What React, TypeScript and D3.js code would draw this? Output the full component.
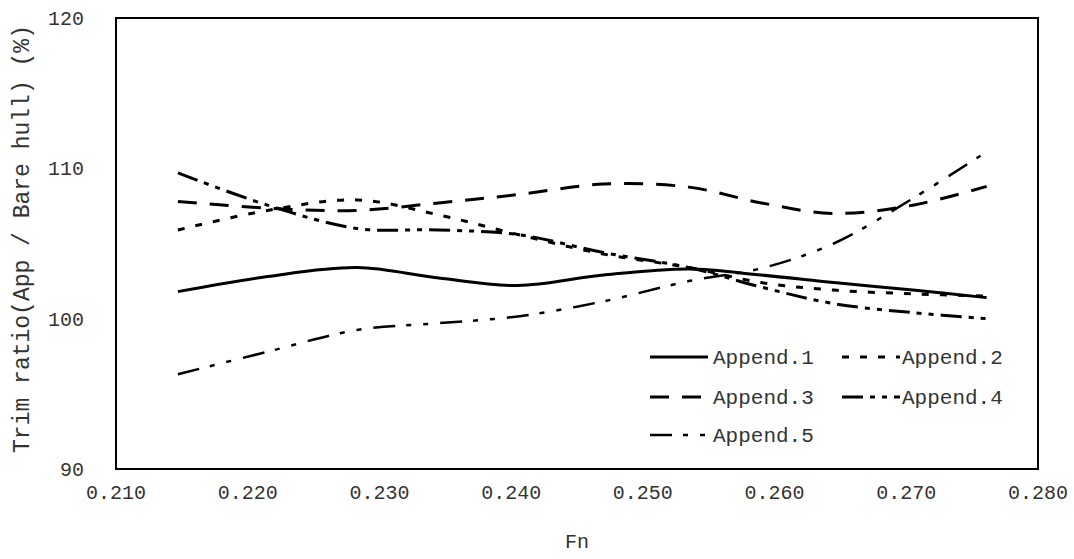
import React from "react";
import * as d3 from "d3";

const fnValues = [0.2147, 0.2215, 0.2283, 0.2345, 0.2405, 0.247, 0.2535, 0.259, 0.2645, 0.2705, 0.2761];
const append1 = [101.8, 102.8, 103.4, 102.7, 102.2, 102.9, 103.3, 102.9, 102.4, 101.9, 101.4];
const append2 = [105.9, 107.2, 107.9, 106.9, 105.6, 104.3, 103.4, 102.4, 101.9, 101.65, 101.5];
const append3 = [107.8, 107.35, 107.2, 107.7, 108.25, 108.95, 108.75, 107.7, 107.0, 107.55, 108.8];
const append4 = [109.7, 107.55, 106.0, 105.9, 105.6, 104.4, 103.4, 102.1, 101.0, 100.4, 100.0];
const append5 = [96.3, 97.8, 99.25, 99.7, 100.15, 101.15, 102.5, 103.35, 105.0, 108.0, 111.1];
const seriesNames = ["Append.1", "Append.2", "Append.3", "Append.4", "Append.5"];
const xTicks = [0.21, 0.22, 0.23, 0.24, 0.25, 0.26, 0.27, 0.28];
const yTicks = [90, 100, 110, 120];

const styles = [
  { dash: "none", w: 3 },
  { dash: "7 11", w: 3 },
  { dash: "19 13", w: 3 },
  { dash: "21 7 5 7 5 7", w: 3 },
  { dash: "22 11 5 12 5 12", w: 2.5 },
];

const W = 1074;
const H = 559;
const L = 116, R = 1038, T = 18, B = 469;
const FONT = "'Liberation Mono', 'DejaVu Sans Mono', monospace";

export default function App() {
  const x = d3.scaleLinear().domain([0.21, 0.28]).range([L, R]);
  const y = d3.scaleLinear().domain([90, 120]).range([B, T]);
  const all = [append1, append2, append3, append4, append5];
  const line = d3
    .line<number>()
    .x((_, i) => x(fnValues[i]))
    .y((d) => y(d))
    .curve(d3.curveCatmullRom.alpha(0.5));

  const legendPos = [
    { lx: 650, tx: 713, ly: 357 },
    { lx: 842, tx: 902, ly: 357 },
    { lx: 650, tx: 713, ly: 397 },
    { lx: 842, tx: 902, ly: 397 },
    { lx: 650, tx: 713, ly: 435 },
  ];

  return (
    <svg
      width={W}
      height={H}
      style={{ position: "absolute", left: 0, top: 0, background: "#fff" }}
    >
      <rect x={0} y={0} width={W} height={H} fill="#fff" />
      {all.map((s, i) => (
        <path
          key={i}
          d={line(s) || ""}
          fill="none"
          stroke="#000"
          strokeWidth={styles[i].w}
          strokeDasharray={styles[i].dash}
        />
      ))}
      <rect
        x={L}
        y={T}
        width={R - L}
        height={B - T}
        fill="none"
        stroke="#000"
        strokeWidth={2}
      />
      {yTicks.map((t) => (
        <text
          key={t}
          x={84}
          y={y(t)}
          dy="0.35em"
          textAnchor="end"
          fontFamily={FONT}
          fontSize={20}
          fill="#333"
        >
          {t}
        </text>
      ))}
      {xTicks.map((t) => (
        <text
          key={t}
          x={x(t)}
          y={492}
          dy="0.35em"
          textAnchor="middle"
          fontFamily={FONT}
          fontSize={20}
          fill="#333"
        >
          {d3.format(".3f")(t)}
        </text>
      ))}
      <text
        x={(L + R) / 2}
        y={541}
        dy="0.35em"
        textAnchor="middle"
        fontFamily={FONT}
        fontSize={20}
        fill="#333"
      >
        Fn
      </text>
      <text
        transform={`translate(21, 239) rotate(-90)`}
        dy="0.35em"
        textAnchor="middle"
        fontFamily={FONT}
        fontSize={23}
        fill="#333"
      >
        Trim ratio(App / Bare hull) (%)
      </text>
      {seriesNames.map((n, i) => (
        <g key={n}>
          <line
            x1={legendPos[i].lx}
            x2={legendPos[i].lx + 58}
            y1={legendPos[i].ly}
            y2={legendPos[i].ly}
            stroke="#000"
            strokeWidth={styles[i].w}
            strokeDasharray={styles[i].dash}
          />
          <text
            x={legendPos[i].tx}
            y={legendPos[i].ly}
            dy="0.35em"
            fontFamily={FONT}
            fontSize={21}
            fill="#333"
          >
            {n}
          </text>
        </g>
      ))}
    </svg>
  );
}
